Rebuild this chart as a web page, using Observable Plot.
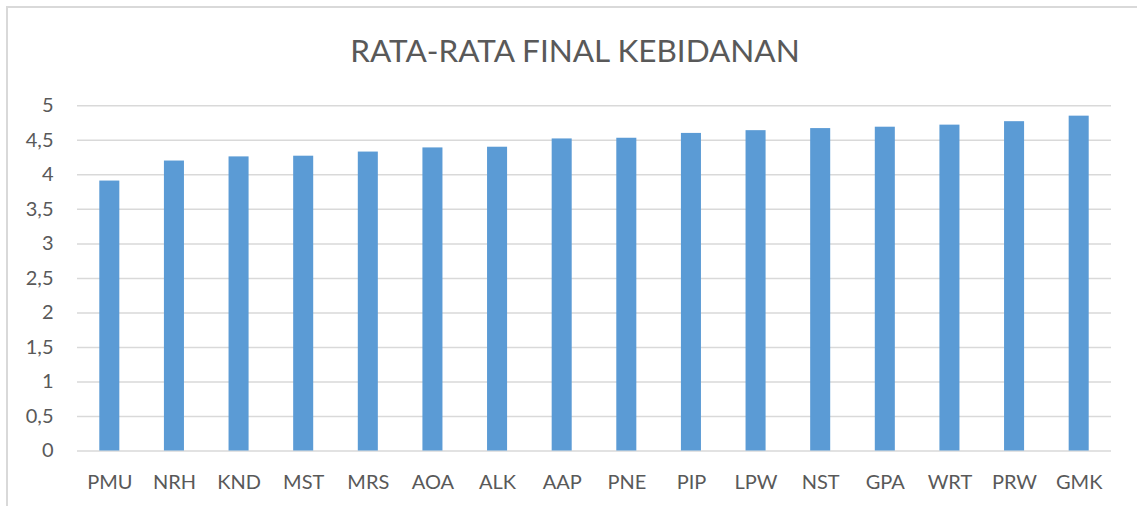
<!DOCTYPE html>
<html>
<head>
<meta charset="utf-8">
<script src="https://cdn.jsdelivr.net/npm/d3@7"></script>
<script src="https://cdn.jsdelivr.net/npm/@observablehq/plot@0.6"></script>
<style>
  html, body { margin: 0; padding: 0; background: #fff; }
  #wrap { position: relative; width: 1137px; height: 506px; overflow: hidden; font-family: Lato, "Open Sans", sans-serif; }
  #frame { position: absolute; left: 6px; top: 6px; width: 1200px; height: 600px; border-left: 2px solid #D9D9D9; border-top: 2px solid #D9D9D9; box-sizing: border-box; }
  #title { position: absolute; left: 0; width: 1150px; top: 30px; text-align: center; font-size: 31.5px; line-height: 40px; color: #595959; white-space: nowrap; }
  #chart { position: absolute; left: 0; top: 0; }
</style>
</head>
<body>
<div id="wrap">
  <div id="frame"></div>
  <div id="title">RATA-RATA FINAL KEBIDANAN</div>
  <div id="chart"></div>
</div>
<script>
const categories = ["PMU", "NRH", "KND", "MST", "MRS", "AOA", "ALK", "AAP", "PNE", "PIP", "LPW", "NST", "GPA", "WRT", "PRW", "GMK"];
const values = [3.91, 4.20, 4.26, 4.27, 4.33, 4.39, 4.40, 4.52, 4.53, 4.60, 4.64, 4.67, 4.69, 4.72, 4.77, 4.85];
const yTicks = [0, 0.5, 1, 1.5, 2, 2.5, 3, 3.5, 4, 4.5, 5];

const data = categories.map((c, i) => ({category: c, value: values[i]}));

const chart = Plot.plot({
  width: 1137,
  height: 506,
  marginTop: 105.3,
  marginBottom: 55.5,
  marginLeft: 77,
  marginRight: 26,
  style: {fontFamily: "Lato, 'Open Sans', sans-serif", fontSize: "20px", color: "#595959", background: "transparent"},
  x: {domain: categories, paddingInner: 0.69, paddingOuter: 0.345, round: false, label: null, tickSize: 0, tickPadding: 24},
  y: {domain: [0, 5], ticks: yTicks, label: null, tickSize: 0, tickPadding: 24,
      tickFormat: d => String(d).replace(".", ",")},
  marks: [
    Plot.ruleY(yTicks, {stroke: "#D9D9D9", strokeWidth: 1.5}),
    Plot.barY(data, {x: "category", y: "value", fill: "#5B9BD5"})
  ]
});
document.getElementById("chart").appendChild(chart);
</script>
</body>
</html>
